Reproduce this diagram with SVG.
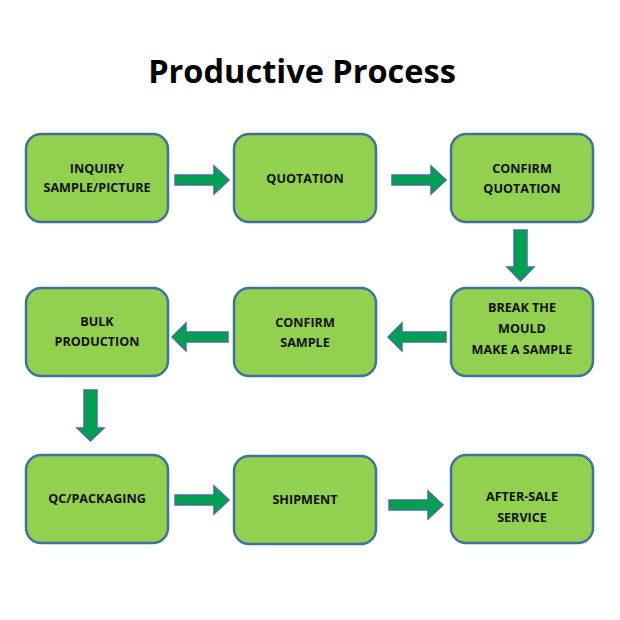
<svg xmlns="http://www.w3.org/2000/svg" width="620" height="620" viewBox="0 0 620 620">
<style>
.box{fill:#92D050;stroke:#41719C;stroke-width:2.5}
.lbl{font-family:"Open Sans","Liberation Sans",sans-serif;font-weight:bold;font-size:12.6px;fill:#111;text-anchor:middle;dominant-baseline:central}
.arr{fill:#00A050;stroke:#41719C;stroke-width:1.5}
.title{font-family:"Open Sans","Liberation Sans",sans-serif;font-weight:bold;font-size:32.5px;fill:#000;text-anchor:middle}
</style>
<rect width="620" height="620" fill="#fff"/>
<text class="title" x="302" y="83">Productive Process</text>
<g id="n1"><rect class="box" x="26" y="134" width="142" height="88" rx="15"/><text class="lbl" x="97" y="168">INQUIRY</text><text class="lbl" x="97" y="187">SAMPLE/PICTURE</text></g>
<g id="n2"><rect class="box" x="234" y="134" width="142" height="88" rx="15"/><text class="lbl" x="305" y="178">QUOTATION</text></g>
<g id="n3"><rect class="box" x="451" y="134" width="142" height="88" rx="15"/><text class="lbl" x="522" y="168">CONFIRM</text><text class="lbl" x="522" y="188">QUOTATION</text></g>
<g id="n4"><rect class="box" x="451" y="288" width="142" height="88" rx="15"/><text class="lbl" x="522" y="307">BREAK THE</text><text class="lbl" x="522" y="328">MOULD</text><text class="lbl" x="522" y="349">MAKE A SAMPLE</text></g>
<g id="n5"><rect class="box" x="234" y="288" width="142" height="88" rx="15"/><text class="lbl" x="305" y="322">CONFIRM</text><text class="lbl" x="305" y="342">SAMPLE</text></g>
<g id="n6"><rect class="box" x="26" y="288" width="142" height="88" rx="15"/><text class="lbl" x="97" y="321">BULK</text><text class="lbl" x="97" y="341">PRODUCTION</text></g>
<g id="n7"><rect class="box" x="26" y="455" width="142" height="88" rx="15"/><text class="lbl" x="97" y="498">QC/PACKAGING</text></g>
<g id="n8"><rect class="box" x="234" y="456" width="142" height="88" rx="15"/><text class="lbl" x="305" y="499">SHIPMENT</text></g>
<g id="n9"><rect class="box" x="451" y="455" width="142" height="88" rx="15"/><text class="lbl" x="522" y="496">AFTER-SALE</text><text class="lbl" x="522" y="517">SERVICE</text></g>
<g id="connectors">
<path class="arr" d="M175,175 H214 V166 L229,180 L214,194 V185 H175 Z"/>
<path class="arr" d="M392,175 H431 V166 L446,180 L431,194 V185 H392 Z"/>
<path class="arr" d="M514,230 V267 H507 L520.5,281 L534,267 H527 V230 Z"/>
<path class="arr" d="M446,332 H402 V323 L388,337 L402,351 V342 H446 Z"/>
<path class="arr" d="M228,332 H186 V323 L172,337 L186,351 V342 H228 Z"/>
<path class="arr" d="M84,390 V428 H77 L90.5,441 L104,428 H97 V390 Z"/>
<path class="arr" d="M175,495 H214 V486 L229,500 L214,514 V505 H175 Z"/>
<path class="arr" d="M389,500 H428 V491 L443,505 L428,519 V510 H389 Z"/>
</g>
</svg>
